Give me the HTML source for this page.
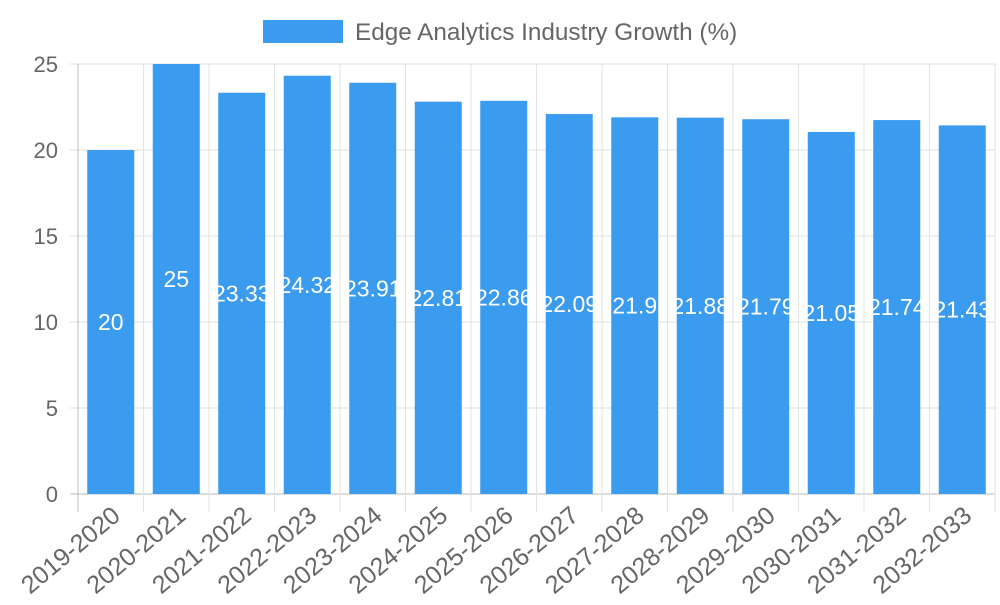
<!DOCTYPE html>
<html><head><meta charset="utf-8"><style>
body{margin:0;background:#fff;}
svg text{font-family:"Liberation Sans",sans-serif;}
</style></head><body>
<svg id="chart" width="1000" height="600">
<g id="legend">
<rect x="263" y="20" width="80" height="23" fill="#3a9bef"></rect>
<text x="355" y="40" font-size="24.3" fill="#666">Edge Analytics Industry Growth (%)</text>
</g>
<g id="grid"></g><g id="bars"></g><g id="axes"></g>
</svg>
<script>
const categories=["2019-2020","2020-2021","2021-2022","2022-2023","2023-2024","2024-2025","2025-2026","2026-2027","2027-2028","2028-2029","2029-2030","2030-2031","2031-2032","2032-2033"];
const values=[20,25,23.33,24.32,23.91,22.81,22.86,22.09,21.9,21.88,21.79,21.05,21.74,21.43];
const yTicks=[0,5,10,15,20,25];
const NS="http://www.w3.org/2000/svg";
const L=78,R=995,T=64,B=494,yMax=25;
const step=(R-L)/categories.length;
const x=i=>L+step*i;
const y=v=>B-(v/yMax)*(B-T);
function mk(tag,attrs,parent){const e=document.createElementNS(NS,tag);for(const k in attrs)e.setAttribute(k,attrs[k]);parent.appendChild(e);return e;}
const grid=document.getElementById('grid'),bars=document.getElementById('bars'),axes=document.getElementById('axes');
yTicks.forEach(t=>{
 const gl=mk('line',{x1:70,x2:R,y1:y(t),y2:y(t),stroke:t===0?'#bbb':'#e2e2e2','stroke-width':1},grid);
 
 
 const tl=mk('text',{x:58,y:y(t)+8,'font-size':22,fill:'#666','text-anchor':'end'},axes);
 tl.textContent=t;
 
 
});
for(let i=0;i<=categories.length;i++){
 const vl=mk('line',{x1:x(i),x2:x(i),y1:T,y2:B+18,stroke:i===0?'#bbb':'#e2e2e2','stroke-width':1},grid);
 
 
}
categories.forEach((c,i)=>{
 const cx=x(i)+step/2,w=47;
 const r=mk('rect',{x:cx-w/2,y:y(values[i]),width:w,height:B-y(values[i]),fill:'#3a9bef'},bars);
 
 
 const vt=mk('text',{x:cx,y:(y(values[i])+B)/2+8,'font-size':23,fill:'#fff','text-anchor':'middle'},bars);
 vt.textContent=values[i];
 
 
 const xl=mk('text',{x:0,y:0,'font-size':25,fill:'#666','text-anchor':'end',transform:`translate(${cx+11},${B+24}) rotate(-40)`},axes);
 xl.textContent=c;
 
 
});
</script>
</body></html>
